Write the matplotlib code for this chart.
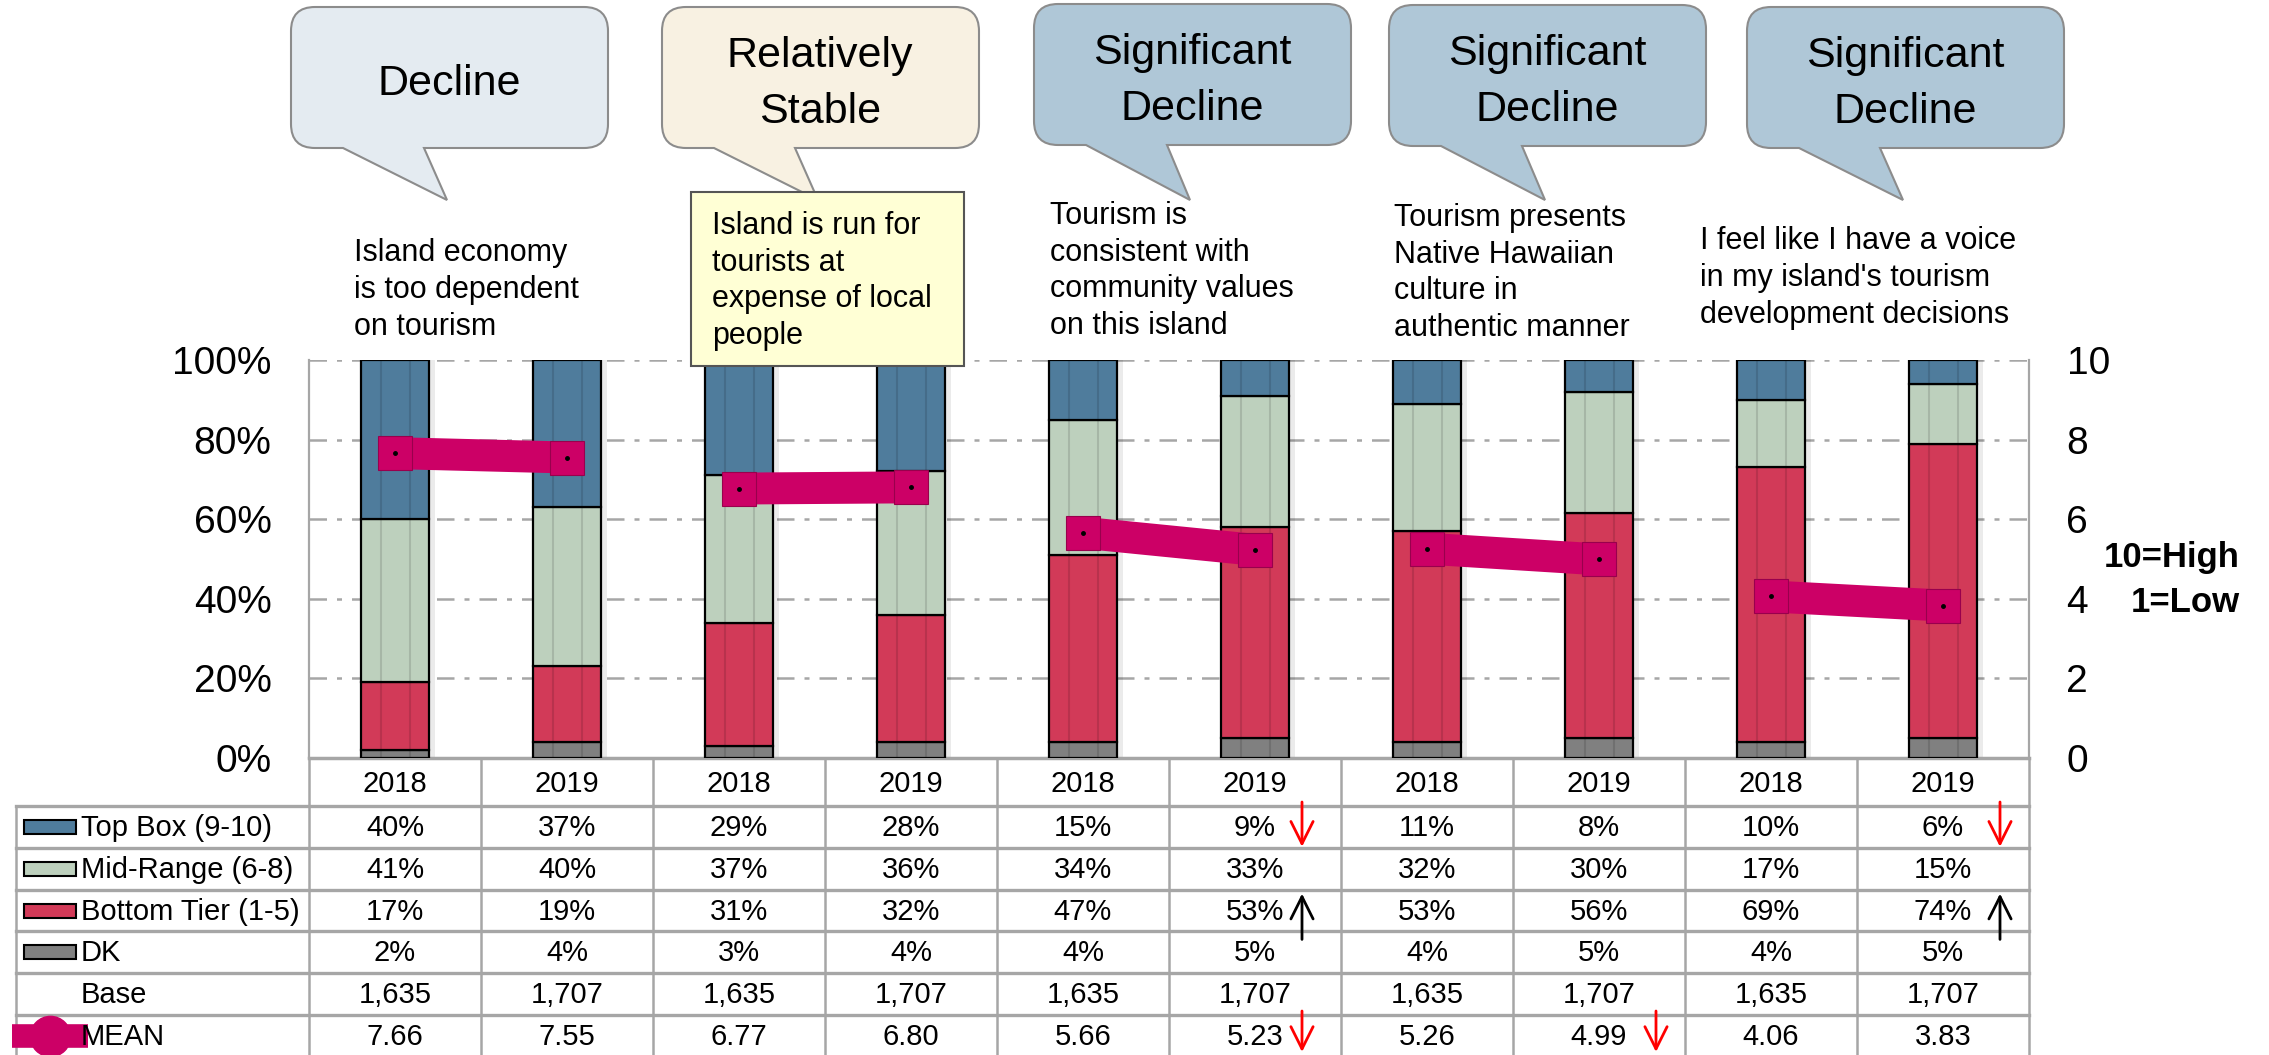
import numpy as np
import matplotlib
matplotlib.use("Agg")
import matplotlib.pyplot as plt
from matplotlib.path import Path
from matplotlib.patches import PathPatch, Rectangle

plt.rcParams['font.family'] = ['Liberation Sans', 'DejaVu Sans']

# ---- data ----
verdicts = ["Decline", "Relatively\nStable", "Significant\nDecline",
            "Significant\nDecline", "Significant\nDecline"]
questions = [
    "Island economy\nis too dependent\non tourism",
    "Island is run for\ntourists at\nexpense of local\npeople",
    "Tourism is\nconsistent with\ncommunity values\non this island",
    "Tourism presents\nNative Hawaiian\nculture in\nauthentic manner",
    "I feel like I have a voice\nin my island's tourism\ndevelopment decisions",
]
years = ["2018", "2019"] * 5
top_box = [40, 37, 29, 28, 15, 9, 11, 8, 10, 6]
mid_range = [41, 40, 37, 36, 34, 33, 32, 30, 17, 15]
bottom_tier = [17, 19, 31, 32, 47, 53, 53, 56, 69, 74]
dk = [2, 4, 3, 4, 4, 5, 4, 5, 4, 5]
base = [1635, 1707, 1635, 1707, 1635, 1707, 1635, 1707, 1635, 1707]
mean = [7.66, 7.55, 6.77, 6.80, 5.66, 5.23, 5.26, 4.99, 4.06, 3.83]
row_labels = ["Top Box (9-10)", "Mid-Range (6-8)", "Bottom Tier (1-5)", "DK", "Base", "MEAN"]
# significant changes: (bar index, table row, direction)
sig_marks = [(5, 0, "down"), (9, 0, "down"), (5, 2, "up"), (9, 2, "up"),
             (5, 5, "down"), (7, 5, "down")]

# ---- style ----
C_TOP, C_MID, C_BOT, C_DK = "#4F7C9C", "#BDD0BD", "#D23A58", "#808080"
PINK = "#CC0066"
GRID = "#A6A6A6"
bubble_colors = ["#E4EBF1", "#F8F1E2", "#AFC7D7", "#AFC7D7", "#AFC7D7"]

W, H = 2269, 1055
PL, PR, PT, PB = 309, 2029, 360, 758
COLW = (PR - PL) / 10

fig = plt.figure(figsize=(W / 100, H / 100), dpi=100)
ax = fig.add_axes([PL / W, 1 - PB / H, (PR - PL) / W, (PB - PT) / H])

x = np.arange(10)
segs = np.array([dk, bottom_tier, mid_range, top_box], dtype=float)
segs = segs / segs.sum(axis=0) * 100
bw = 0.395

ax.bar(x + 0.035, 100, bw, color="black", alpha=0.08, zorder=2)
bottom = np.zeros(10)
for vals, col in zip(segs, [C_DK, C_BOT, C_MID, C_TOP]):
    ax.bar(x, vals, bw, bottom=bottom, color=col, edgecolor="black", linewidth=1.6, zorder=3)
    bottom += vals
ax.vlines(np.concatenate([x - 0.2 * bw, x + 0.22 * bw]), 0.3, 99.7,
          colors="black", alpha=0.12, linewidth=1.5, zorder=3.5)

ax.set_xlim(-0.5, 9.5)
ax.set_ylim(0, 100)
ax.set_yticks(range(0, 101, 20))
ax.set_yticklabels([f"{v}%" for v in range(0, 101, 20)], fontsize=28)
ax.set_xticks([])
ax.tick_params(axis="y", length=0, pad=27)
ax.yaxis.grid(True, linestyle=(0, (7, 4, 2, 4)), color=GRID, linewidth=1.8, zorder=1)
ax.set_axisbelow(True)
for s in ["left", "right"]:
    ax.spines[s].set_color(GRID)
    ax.spines[s].set_linewidth(1.6)
ax.spines["bottom"].set_color(GRID)
ax.spines["bottom"].set_linewidth(2.5)
ax.spines["top"].set_visible(False)

ax2 = ax.twinx()
ax2.set_ylim(0, 10)
ax2.set_yticks(range(0, 11, 2))
ax2.set_yticklabels([str(v) for v in range(0, 11, 2)], fontsize=28)
ax2.tick_params(axis="y", length=0, pad=27)
for s in ax2.spines.values():
    s.set_visible(False)
for i in range(0, 10, 2):
    ax2.plot(x[i:i + 2], mean[i:i + 2], color=PINK, linewidth=23, solid_capstyle="butt", zorder=5)
    ax2.plot(x[i:i + 2], mean[i:i + 2], "s", markersize=25, markerfacecolor=PINK,
             markeredgecolor="#99004D", markeredgewidth=0.8, zorder=6)
    ax2.plot(x[i:i + 2], mean[i:i + 2], "o", markersize=2.5, color="black", zorder=7)

# ---- overlay for callouts, texts and the table ----
ov = fig.add_axes([0, 0, 1, 1])
ov.set_xlim(0, W)
ov.set_ylim(H, 0)
ov.axis("off")
ov.set_zorder(10)


def bubble(x0, y0, x1, y1, r, tl, tr, tip):
    C = Path.CURVE3
    verts = [(x0 + r, y0), (x1 - r, y0), (x1, y0), (x1, y0 + r), (x1, y1 - r),
             (x1, y1), (x1 - r, y1), (tr, y1), tip, (tl, y1), (x0 + r, y1),
             (x0, y1), (x0, y1 - r), (x0, y0 + r), (x0, y0), (x0 + r, y0), (x0 + r, y0)]
    codes = [Path.MOVETO, Path.LINETO, C, C, Path.LINETO, C, C, Path.LINETO,
             Path.LINETO, Path.LINETO, Path.LINETO, C, C, Path.LINETO, C, C, Path.CLOSEPOLY]
    return Path(verts, codes)


bubble_left = [291, 662, 1034, 1389, 1747]
bubble_top = [7, 7, 4, 5, 7]
for bl, bt, txt, fc in zip(bubble_left, bubble_top, verdicts, bubble_colors):
    p = bubble(bl, bt, bl + 317, bt + 141, 24, bl + 52, bl + 133, (bl + 156, 200))
    ov.add_patch(PathPatch(p, facecolor=fc, edgecolor="#8C8C8C", linewidth=1.5))
    ov.text(bl + 158, bt + 77, txt, ha="center", va="center", fontsize=31,
            linespacing=1.5)

ov.add_patch(Rectangle((691, 192), 273, 174, facecolor="#FFFFD5", edgecolor="#555555",
                       linewidth=1.5))
q_left = [354, 712, 1050, 1394, 1700]
q_mid = [290, 281, 271, 273, 278]
for ql, qm, q in zip(q_left, q_mid, questions):
    ov.text(ql, qm, q, ha="left", va="center", fontsize=22, linespacing=1.3)

# table
TT, RH, HT = 806, 41.8, 758
lw_t = 1.8
for k in range(11):
    ov.plot([PL + k * COLW] * 2, [HT, H + 5], color=GRID, linewidth=lw_t)
ov.plot([16, 16], [TT, H + 5], color=GRID, linewidth=lw_t)
for j in range(6):
    ov.plot([16, PR], [TT + j * RH] * 2, color=GRID, linewidth=lw_t + 0.6)

cx = PL + (x + 0.5) * COLW
for c, yr in zip(cx, years):
    ov.text(c, (HT + TT) / 2 + 2, yr, ha="center", va="center", fontsize=21)

cells = [[f"{v}%" for v in top_box], [f"{v}%" for v in mid_range],
         [f"{v}%" for v in bottom_tier], [f"{v}%" for v in dk],
         [f"{v:,}" for v in base], [f"{v:.2f}" for v in mean]]
for j, (lab, row) in enumerate(zip(row_labels, cells)):
    yc = TT + (j + 0.5) * RH
    for c, t in zip(cx, row):
        ov.text(c, yc + 1, t, ha="center", va="center", fontsize=21)
    ov.text(81, yc + 1, lab, ha="left", va="center", fontsize=21)

for j, col in enumerate([C_TOP, C_MID, C_BOT, C_DK]):
    yc = TT + (j + 0.5) * RH
    ov.add_patch(Rectangle((24, yc - 7), 52, 14, facecolor=col, edgecolor="black",
                           linewidth=1.5))
ym = TT + 5.5 * RH
ov.plot([12, 88], [ym, ym], color=PINK, linewidth=17, solid_capstyle="butt")
ov.plot([50], [ym], "o", markersize=29, color=PINK)

for i, j, d in sig_marks:
    xa = cx[i] + (47 if i == 5 else 57)
    top, bot = TT + j * RH, TT + (j + 1) * RH
    if d == "down":
        tail, head, col = top - 4, min(bot - 1, H - 3), "red"
    else:
        tail, head, col = bot + 8, top + 4, "black"
    ov.annotate("", xy=(xa, head), xytext=(xa, tail), annotation_clip=False,
                arrowprops=dict(arrowstyle="->", color=col, lw=2, mutation_scale=40,
                                shrinkA=0, shrinkB=0))

fig.text(2240 / W, 1 - 558 / H, "10=High", ha="right", va="center", fontsize=25,
         fontweight="bold")
fig.text(2240 / W, 1 - 602 / H, "1=Low", ha="right", va="center", fontsize=25,
         fontweight="bold")

fig.savefig("out.png", dpi=100)
